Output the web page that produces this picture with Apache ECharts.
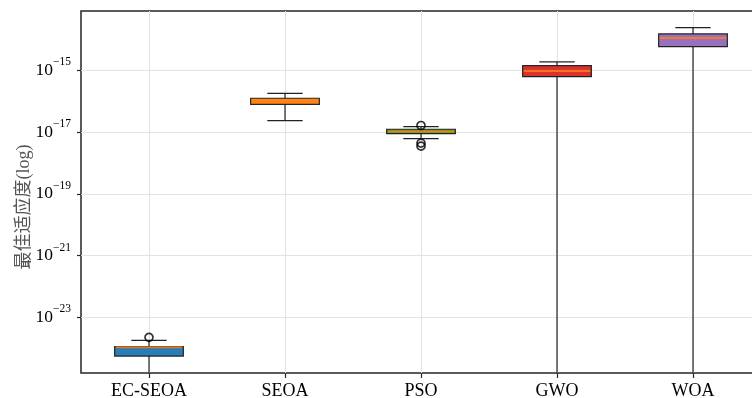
<!DOCTYPE html>
<html>
<head>
<meta charset="utf-8">
<script src="https://cdn.jsdelivr.net/npm/echarts@6/dist/echarts.min.js"></script>
<style>html,body{margin:0;padding:0;background:#fff;}#c{width:752px;height:398px;}</style>
</head>
<body>
<div id="c"></div>
<script>
// ---- data ----
const categories = ['EC-SEOA', 'SEOA', 'PSO', 'GWO', 'WOA'];
// whisker low, Q1, median, Q3, whisker high  (1e-30 = below the visible axis range)
const whiskerLow  = [1e-30,   2.33e-17, 6.1e-18,  1e-30,   1e-30];
const q1Values    = [5.6e-25, 7.9e-17,  8.85e-18, 6.2e-16, 5.8e-15];
const medianValues= [1.08e-24,1.0e-16,  1.04e-17, 9.5e-16, 1.11e-14];
const q3Values    = [1.13e-24,1.24e-16, 1.23e-17, 1.41e-15,1.5e-14];
const whiskerHigh = [1.8e-24, 1.8e-16,  1.49e-17, 1.86e-15,2.4e-14];
// outliers: [category index, value]
const outlierCats   = [0, 2, 2, 2];
const outlierValues = [2.25e-24, 1.63e-17, 4.4e-18, 3.5e-18];
const yTickExponents = [-23, -21, -19, -17, -15];
const yAxisMin = 1.58e-25;
const yAxisMax = 8.3e-14;

// ---- styles ----
const boxColors = ['#1f77b4', '#ff7f0e', '#2ca02c', '#d62728', '#9467bd'];
const medianColor = '#ff7f0e';
const serif = "'Liberation Serif', 'Times New Roman', serif";

const boxData = categories.map((c, i) => [i, whiskerLow[i], q1Values[i], medianValues[i], q3Values[i], whiskerHigh[i]]);
const outlierData = outlierCats.map((c, i) => [c, outlierValues[i]]);
const yTicks = yTickExponents.map(e => Math.pow(10, e));

function renderItem(params, api) {
  const i = api.value(0);
  const lo = api.coord([i, api.value(1)]);
  const q1 = api.coord([i, api.value(2)]);
  const md = api.coord([i, api.value(3)]);
  const q3 = api.coord([i, api.value(4)]);
  const hi = api.coord([i, api.value(5)]);
  const band = api.size([1, 1], [i, api.value(3)])[0];
  const bw = band * 0.505;
  const cw = band * 0.26;
  const x = md[0];
  const lineStyle = { stroke: '#222', lineWidth: 1.2, fill: null };
  return {
    type: 'group',
    children: [
      { type: 'line', shape: { x1: x, y1: q3[1], x2: x, y2: hi[1] }, style: lineStyle },
      { type: 'line', shape: { x1: x, y1: q1[1], x2: x, y2: lo[1] }, style: lineStyle },
      { type: 'line', shape: { x1: x - cw / 2, y1: hi[1], x2: x + cw / 2, y2: hi[1] }, style: lineStyle },
      { type: 'line', shape: { x1: x - cw / 2, y1: lo[1], x2: x + cw / 2, y2: lo[1] }, style: lineStyle },
      { type: 'rect', shape: { x: x - bw / 2, y: q3[1], width: bw, height: q1[1] - q3[1] },
        style: { fill: boxColors[i], stroke: '#1a1a1a', lineWidth: 1.2, opacity: 0.95 } },
      { type: 'line', shape: { x1: x - bw / 2 + 1, y1: md[1], x2: x + bw / 2 - 1, y2: md[1] },
        style: { stroke: medianColor, lineWidth: 2, opacity: 0.85 } }
    ]
  };
}

const chart = echarts.init(document.getElementById('c'), null, { renderer: 'canvas' });
chart.setOption({
  animation: false,
  backgroundColor: '#fff',
  grid: { left: 81, top: 11, width: 680, height: 362, outerBoundsMode: 'none', containLabel: false,
          show: true, borderColor: '#262626', borderWidth: 1.5, backgroundColor: 'transparent' },
  xAxis: {
    type: 'category',
    data: categories,
    axisLine: { show: false },
    axisTick: { show: true, alignWithLabel: true, length: 5, lineStyle: { color: '#262626', width: 1.2 } },
    splitLine: { show: true, alignWithLabel: true, lineStyle: { color: '#e3e3e3', width: 1 } },
    axisLabel: { color: '#000', fontFamily: serif, fontSize: 18, margin: 9 }
  },
  yAxis: {
    type: 'log',
    logBase: 10,
    min: yAxisMin,
    max: yAxisMax,
    name: '最佳适应度(log)',
    nameLocation: 'middle',
    nameGap: 48,
    nameMoveOverlap: false,
    nameRotate: 90,
    nameTextStyle: { color: '#555', fontSize: 18, fontFamily: "'Liberation Serif', 'Noto Sans CJK SC', serif", padding: [0, 30, 0, 0] },
    axisLine: { show: false },
    axisTick: { show: true, customValues: yTicks, length: 4, lineStyle: { color: '#262626', width: 1.2 } },
    splitLine: { show: true, lineStyle: { color: '#e3e3e3', width: 1 } },
    axisLabel: {
      customValues: yTicks,
      margin: 10,
      formatter: function (v) {
        const e = Math.round(Math.log10(v));
        return '{b|10}{s|' + (e < 0 ? '\u2212' + (-e) : e) + '}';
      },
      rich: {
        b: { fontFamily: serif, fontSize: 17.5, color: '#000', lineHeight: 28 },
        s: { fontFamily: serif, fontSize: 11.5, color: '#000', verticalAlign: 'top', lineHeight: 12 }
      }
    }
  },
  series: [
    { type: 'custom', renderItem: renderItem, data: boxData, clip: true, z: 2,
      encode: { x: 0, y: [1, 2, 3, 4, 5] } },
    { type: 'scatter', data: outlierData, symbol: 'circle', symbolSize: 8, z: 3,
      itemStyle: { color: 'rgba(255,255,255,0)', borderColor: '#000', borderWidth: 1.7 } }
  ]
});
</script>
</body>
</html>
